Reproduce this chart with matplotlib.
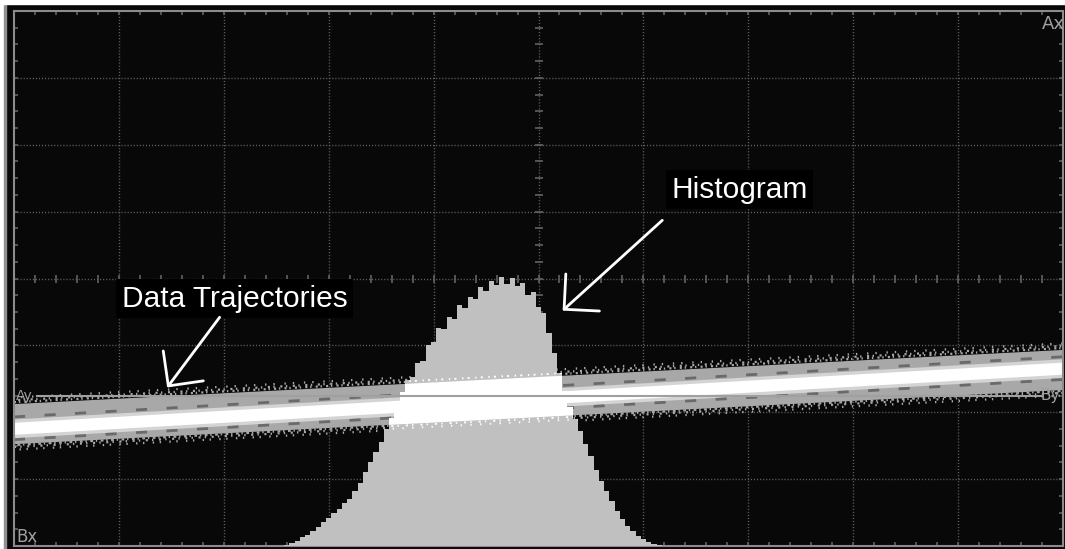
import numpy as np
import matplotlib.pyplot as plt
from matplotlib.patches import Rectangle

plt.rcParams['lines.scale_dashes'] = False

# ---- data (oscilloscope divisions: x -5..5, y -4..4) ----
hist_x = np.round(np.arange(-2.40, 1.16, 0.05), 2)
hist_top = [-3.99, -3.96, -3.92, -3.87, -3.83, -3.78, -3.71, -3.64, -3.58, -3.50,
            -3.44, -3.36, -3.30, -3.18, -3.06, -2.90, -2.74, -2.60, -2.44, -2.25,
            -2.08, -1.90, -1.70, -1.52, -1.47, -1.26, -1.24, -1.00, -0.95, -0.74,
            -0.76, -0.58, -0.60, -0.40, -0.44, -0.27, -0.30, -0.13, -0.18, -0.03,
            -0.10, 0.02, -0.08, 0.01, -0.11, -0.06, -0.24, -0.20, -0.42, -0.52,
            -0.82, -1.12, -1.42, -1.68, -1.92, -2.10, -2.28, -2.47, -2.66, -2.86,
            -3.03, -3.18, -3.33, -3.48, -3.60, -3.70, -3.78, -3.85, -3.90, -3.94,
            -3.97, -3.99]

traj_x = np.array([-5.0, 5.0])
band_center = np.array([-2.17, -1.36])
core_center = np.array([-2.24, -1.34])
band_half = 0.30
core_half = 0.09

ref_x = [-4.78, 4.79]      # Ay - By reference line
ref_y = [-1.75, -1.75]

bg = '#080808'
grid_c = '#626262'
band_c = '#a8a8a8'
hist_c = '#c0c0c0'

fig = plt.figure(figsize=(10.65, 5.49), dpi=100, facecolor=bg)
# white screen border on left / top
fig.patches.append(Rectangle((0, 0), 4 / 1065, 1, transform=fig.transFigure, color='white', zorder=0))
fig.patches.append(Rectangle((4 / 1065, 0), 2 / 1065, 1, transform=fig.transFigure, color='#909090', zorder=0))
fig.patches.append(Rectangle((0, 1 - 4 / 549), 1, 4 / 549, transform=fig.transFigure, color='white', zorder=0))

ax = fig.add_axes([14 / 1065, 3 / 549, 1049 / 1065, 535 / 549])
ax.set_facecolor(bg)
ax.set_xlim(-5, 5)
ax.set_ylim(-4, 4)
ax.set_xticks([])
ax.set_yticks([])
for s in ax.spines.values():
    s.set_color('#8c8c8c')
    s.set_linewidth(1.5)

# graticule
for v in range(-4, 5):
    ax.axvline(v, color=grid_c, lw=1, ls=(0, (0.8, 1.4)), zorder=1)
for h in range(-3, 4):
    ax.axhline(h, color=grid_c, lw=1, ls=(0, (0.8, 1.4)), zorder=1)
yt = np.arange(-4, 4.01, 0.25)
xt = np.arange(-5, 5.01, 0.2)
tick = dict(ls='none', ms=6, mew=1.2, color=grid_c, zorder=1)
ax.plot(np.zeros_like(yt), yt, marker='_', **tick)
ax.plot(xt, np.zeros_like(xt), marker='|', **tick)
ax.plot(np.full_like(yt, -5), yt, marker='_', **tick)
ax.plot(np.full_like(yt, 5), yt, marker='_', **tick)
ax.plot(xt, np.full_like(xt, -4), marker='|', **tick)
ax.plot(xt, np.full_like(xt, 4), marker='|', **tick)

# data trajectories (persistence band)
ax.fill_between(traj_x, band_center - band_half, band_center + band_half, color=band_c, lw=0, zorder=2)
edge_noise = [(0.32, (0, (1.5, 2, 1, 3))), (0.35, (2, (1, 4, 1.5, 2.5))), (0.39, (1, (1, 5, 1, 7))),
              (-0.32, (1, (1, 2.5, 2, 2))), (-0.35, (0, (1.5, 3, 1, 4))), (-0.39, (3, (1, 6, 1, 4)))]
for off, pat in edge_noise:
    ax.plot(traj_x, band_center + off, color=band_c, lw=1.6, ls=pat, zorder=2)
ax.fill_between(traj_x, core_center - 0.14, core_center + 0.14, color='#d4d4d4', lw=0, zorder=2)
ax.fill_between(traj_x, core_center - core_half, core_center + core_half, color='white', lw=0, zorder=2)
for off in [0.17, -0.17]:
    ax.plot(traj_x, core_center + off, color='#6a6a6a', lw=2.0, ls=(0, (8, 14)), zorder=2)

# histogram
edges = np.append(hist_x - 0.025, hist_x[-1] + 0.025)
hist = ax.stairs(hist_top, edges, baseline=-4, fill=True, color=hist_c, lw=0, zorder=3)

# where trajectories cross the histogram it turns white
wb = ax.fill_between(traj_x, band_center - band_half, band_center + band_half, color='white', lw=0, zorder=4)
wb.set_clip_path(hist)
for off, pat in [(0.33, (0, (1, 3, 1.5, 4))), (-0.33, (1, (1.5, 3, 1, 5))), (-0.37, (0, (1, 6)))]:
    ln, = ax.plot(traj_x, band_center + off, color='white', lw=1.4, ls=pat, zorder=4)
    ln.set_clip_path(hist)

# reference line
ax.plot(ref_x, ref_y, color='#a0a0a0', lw=1.5, zorder=5)

# channel labels
lab = dict(color='#a0a0a0', family='DejaVu Sans', zorder=6)
ax.text(4.80, 3.94, 'Ax', fontsize=13, va='top', ha='left', **lab)
ax.text(-4.98, -3.94, 'Bx', fontsize=12, va='baseline', ha='left', **lab)
ax.text(-4.98, -1.81, 'Ay', fontsize=10, va='baseline', ha='left', **lab)
ax.text(4.79, -1.81, 'By', fontsize=11, va='baseline', ha='left', **lab)

# annotations
txt = dict(color='white', family='Liberation Sans', fontsize=21.5, zorder=7,
           bbox=dict(facecolor='black', edgecolor='none', pad=4))
ax.text(1.267, 1.21, 'Histogram', va='baseline', ha='left', **txt)
ax.text(-3.97, -0.42, 'Data Trajectories', va='baseline', ha='left', **txt)

arrow = dict(arrowstyle='->,head_length=1,head_width=1', color='white', lw=2,
             mutation_scale=18, shrinkA=0, shrinkB=0)
ax.annotate('', xy=(0.23, -0.48), xytext=(1.18, 0.87), arrowprops=arrow, zorder=7)
ax.annotate('', xy=(-3.54, -1.63), xytext=(-3.04, -0.58), arrowprops=arrow, zorder=7)

fig.savefig('out.png', dpi=100, facecolor=fig.get_facecolor())
